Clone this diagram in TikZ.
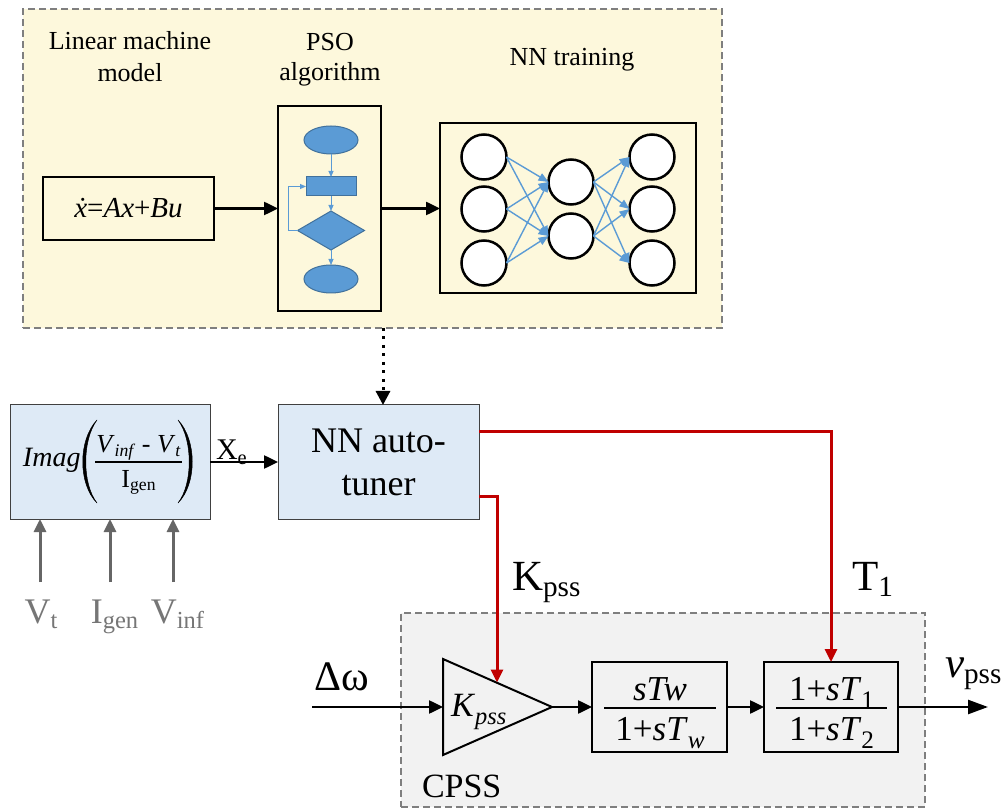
\documentclass[tikz,border=0pt]{standalone}
\usepackage{fontspec}
\setmainfont{Liberation Serif}
\usepackage{graphicx}
\usetikzlibrary{arrows.meta,shapes.geometric}
\definecolor{topfill}{HTML}{FDF8DC}
\definecolor{cpssfill}{HTML}{F2F2F2}
\definecolor{bluefill}{HTML}{DEEAF6}
\definecolor{fcblue}{HTML}{5B9BD5}
\definecolor{fcborder}{HTML}{41719C}
\definecolor{redln}{HTML}{C00000}
\definecolor{grayln}{HTML}{666666}
\definecolor{graytxt}{HTML}{767676}
\definecolor{dashgray}{HTML}{7F7F7F}
\definecolor{boxgray}{HTML}{404040}
\newcommand\sbx[2][0.68]{\raisebox{-0.15em}{\scalebox{#1}{#2}}}
\newcommand\msb[2][0.72]{\raisebox{-0.25em}{\scalebox{#1}{#2}}}
\newcommand\fs[1]{\fontsize{#1}{#1}\selectfont}
\begin{document}
\begin{tikzpicture}[x=1pt,y=-1pt,
  every node/.style={inner sep=0pt,outer sep=0pt},
  panel/.style={draw=dashgray,line width=1.5pt,dash pattern=on 7pt off 4pt},
  plainbox/.style={draw=black,line width=2pt},
  bluebox/.style={draw=boxgray,line width=1pt,fill=bluefill},
  fcshape/.style={fill=fcblue,draw=fcborder,line width=1pt},
  neuron/.style={circle,draw=black,line width=2.5pt,fill=white,minimum size=45pt},
  titletxt/.style={font=\fs{26},anchor=base},
  graylbl/.style={font=\fs{36},text=graytxt,anchor=base},
  mainarrow/.style={line width=2.5pt,-{Triangle[length=14pt,width=13pt]}},
  bigarrow/.style={line width=2.5pt,-{Triangle[length=20pt,width=14pt]}},
  redarrow/.style={draw=redln,line width=3pt,-{Triangle[length=13pt,width=12pt]}},
  grayarrow/.style={draw=grayln,line width=3pt,-{Triangle[length=13pt,width=12pt]}},
  nnarrow/.style={draw=fcblue,line width=1.4pt,-{Triangle[length=10pt,width=8pt]}},
  fcarrow/.style={draw=fcblue,line width=1pt,-{Triangle[length=6pt,width=5pt]}},
  dotarrow/.style={line width=3pt,dash pattern=on 3pt off 5.5pt,-{Triangle[length=14pt,width=14pt]}}]
\fill[white] (0,0) rectangle (1005,810);
\useasboundingbox (0,0) rectangle (1005,810);

% ---------- top panel ----------
\node[panel,fill=topfill,minimum width=699pt,minimum height=319pt] (topbox) at (372.5,168.5) {};
\node[titletxt] (t1a) at (130,50) {Linear machine};
\node[titletxt] (t1b) at (130,82) {model};
\node[titletxt] (t2a) at (330,51) {PSO};
\node[titletxt] (t2b) at (330,81) {algorithm};
\node[titletxt] (t3) at (572,66) {NN training};

\node[plainbox,minimum width=171pt,minimum height=63pt] (eq) at (128.5,208.5)
  {\fs{29}\textit{\.{x}}=\textit{Ax}+\textit{Bu}};

\node[plainbox,minimum width=103pt,minimum height=205pt] (pso) at (329.5,208.5) {};
\node[fcshape,ellipse,minimum width=54pt,minimum height=28pt] (fc1) at (331,140) {};
\node[fcshape,rectangle,minimum width=50pt,minimum height=19pt] (fc2) at (331,186.5) {};
\node[fcshape,diamond,minimum width=67pt,minimum height=39pt] (fc3) at (331,230.5) {};
\node[fcshape,ellipse,minimum width=54pt,minimum height=28pt] (fc4) at (331,279) {};
\draw[fcarrow] (fc1) -- (fc2);
\draw[fcarrow] (fc2) -- (fc3);
\draw[fcarrow] (fc3) -- (fc4);
\draw[fcarrow] (fc3.west) -- ++(-9,0) |- (fc2.west);

\node[draw=black,line width=2.5pt,minimum width=256pt,minimum height=170pt] (nn) at (568,208) {};
\foreach \y [count=\i] in {157,209,263} \node[neuron] (a\i) at (484,\y) {};
\foreach \y [count=\i] in {182,236} \node[neuron] (b\i) at (571,\y) {};
\foreach \y [count=\i] in {157,209,263} \node[neuron] (c\i) at (652,\y) {};
\foreach \i in {1,2,3} \foreach \j in {1,2} \draw[nnarrow] (a\i.east) -- (b\j.west);
\foreach \j in {1,2} \foreach \k in {1,2,3} \draw[nnarrow] (b\j.east) -- (c\k.west);

\draw[mainarrow] (eq.east) -- (eq.east -| pso.west);
\draw[mainarrow] (pso.east) -- (pso.east -| nn.west);

% ---------- middle ----------
\node[bluebox,minimum width=201pt,minimum height=114pt] (tuner) at (378.5,462) {};
\node[anchor=base] (tunA) at (378.5,453) {\fs{36}NN auto-};
\node[anchor=base] (tunB) at (378.5,496) {\fs{36}tuner};

\coordinate (dotsrc) at (383,328);
\draw[dotarrow] (dotsrc) -- (dotsrc |- tuner.north);

\node[bluebox,minimum width=200pt,minimum height=114pt] (imag) at (110,462) {};
\node[anchor=base west] (imagtxt) at (23,467) {\fs{28}\textit{Imag}};
\filldraw[line width=0.5pt] (97,420) .. controls (78,440) and (78,484) .. (97,503)
   .. controls (82,484) and (82,440) .. (97,420) -- cycle;
\filldraw[line width=0.5pt] (178,420) .. controls (197,440) and (197,484) .. (178,503)
   .. controls (193,484) and (193,440) .. (178,420) -- cycle;
\node[anchor=base] (num) at (138.5,453) {\fs{26}\textit{V}\sbx{\textit{inf}} - \textit{V}\sbx{\textit{t}}};
\draw[line width=1.2pt] (95,462) -- (182,462);
\node[anchor=base] (den) at (138.5,487) {\fs{26}I\sbx{gen}};

\draw[mainarrow] (imag.east) -- (tuner.west);
\node[anchor=base west] (xe) at (216,460) {\fs{30}X\sbx{e}};

\coordinate (vt) at (40,582);
\coordinate (ig) at (110,582);
\coordinate (vi) at (173,582);
\draw[grayarrow] (vt) -- (vt |- imag.south);
\draw[grayarrow] (ig) -- (ig |- imag.south);
\draw[grayarrow] (vi) -- (vi |- imag.south);
\node[graylbl] (vtl) at (41,623) {V\sbx{t}};
\node[graylbl] (igl) at (114.5,623) {I\sbx{gen}};
\node[graylbl] (vil) at (177.5,623) {V\sbx{inf}};

% ---------- CPSS ----------
\node[panel,fill=cpssfill,minimum width=524pt,minimum height=194pt] (cpss) at (663,710) {};
\node[anchor=base west] (cpsslbl) at (422,797) {\fs{34}CPSS};

\coordinate (tri-in) at (443,707);
\coordinate (tri-out) at (552,707);
\draw[line width=2pt,fill=cpssfill,line join=miter] (443,659) -- (tri-out) -- (443,755) -- cycle;
\node[anchor=base west] (ktri) at (451,716) {\fs{34}\textit{K}\msb{\textit{pss}}};

\node[plainbox,fill=cpssfill,minimum width=135pt,minimum height=90pt] (blk1) at (659.5,707) {};
\node[plainbox,fill=cpssfill,minimum width=134pt,minimum height=90pt] (blk2) at (831,707) {};
\node[anchor=base] (n1) at (660,700) {\fs{35}\textit{sTw}};
\draw[line width=1.3pt] (604,708) -- (716,708);
\node[anchor=base] (d1) at (660,740) {\fs{35}1+\textit{sT}\msb{\textit{w}}};
\node[anchor=base] (n2) at (831.5,700) {\fs{35}1+\textit{sT}\msb{1}};
\draw[line width=1.3pt] (776,708) -- (887,708);
\node[anchor=base] (d2) at (831.5,740) {\fs{35}1+\textit{sT}\msb{2}};

\coordinate (win) at (312,707);
\coordinate (vout) at (988,707);
\draw[mainarrow] (win) -- (tri-in);
\draw[mainarrow] (tri-out) -- (blk1.west);
\draw[mainarrow] (blk1.east) -- (blk2.west);
\draw[bigarrow] (blk2.east) -- (vout);

\node[anchor=base west] (dw) at (314,690) {\fs{42}Δω};
\node[anchor=base west] (vlbl) at (945,677) {\fs{43}\textit{v}\sbx{pss}};
\node[anchor=base west] (klbl) at (512,590) {\fs{43}K\sbx{pss}};
\node[anchor=base west] (tlbl) at (852,590) {\fs{43}T\sbx{1}};

% ---------- red connectors ----------
\coordinate (tapT) at (479,432);
\coordinate (tapK) at (479,496);
\coordinate (kin) at (497,682.5);
\draw[redarrow] (tapT) -| (blk2.north);
\draw[redarrow] (tapK) -| (kin);
\end{tikzpicture}
\end{document}
